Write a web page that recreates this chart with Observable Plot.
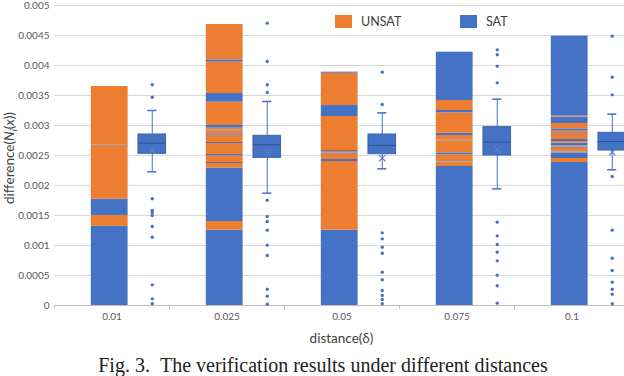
<!DOCTYPE html>
<html><head><meta charset="utf-8">
<script src="https://cdn.jsdelivr.net/npm/d3@7"></script>
<script src="https://cdn.jsdelivr.net/npm/@observablehq/plot@0.6"></script>
<style>
body{margin:0;background:#fff;width:624px;height:376px;overflow:hidden;position:relative;font-family:Lato,"Open Sans",sans-serif}
#chart{position:absolute;left:0;top:0}
.legend{position:absolute;top:15px;display:flex;align-items:center;font-size:12.5px;color:#404040;line-height:13px}
.sw{width:17px;height:13px;margin-right:9px}
#caption{position:absolute;left:0;width:646px;text-align:center;top:355px;font-family:"Liberation Serif",serif;font-size:20px;white-space:nowrap;line-height:20px;color:#222}
</style></head><body>
<div id="chart"></div>
<div class="legend" style="left:335px"><div class="sw" style="background:#ED7D31"></div>UNSAT</div>
<div class="legend" style="left:460px"><div class="sw" style="background:#4472C4"></div>SAT</div>
<div id="caption">Fig. 3.&nbsp;&nbsp;The verification results under different distances</div>
<script>
const distances = ["0.01", "0.025", "0.05", "0.075", "0.1"];

// stacked segments per distance, bottom-up: top value of each segment and its status
const tops_001 = [0.00132, 0.0015, 0.00177, 0.00268, 0.00365];
const status_001 = ["S", "U", "S", "U", "U"];
const tops_0025 = [0.001256, 0.0014, 0.002289, 0.002367, 0.002383, 0.002494, 0.002517, 0.0027, 0.002717, 0.002839, 0.002861, 0.002928, 0.002956, 0.003, 0.003389, 0.003533, 0.004056, 0.004094, 0.004683];
const status_0025 = ["S", "U", "S", "U", "S", "U", "S", "U", "S", "U", "S", "U", "U", "S", "U", "S", "U", "S", "U"];
const tops_005 = [0.001256, 0.0024, 0.002433, 0.002522, 0.002539, 0.002567, 0.002583, 0.00315, 0.003333, 0.003872, 0.003889];
const status_005 = ["S", "U", "S", "U", "S", "U", "S", "U", "S", "U", "S"];
const tops_0075 = [0.002317, 0.0024, 0.002511, 0.002544, 0.002755, 0.002833, 0.002872, 0.003211, 0.00325, 0.003417, 0.004222];
const status_0075 = ["S", "U", "U", "S", "U", "U", "S", "U", "S", "U", "S"];
const tops_01 = [0.002383, 0.00245, 0.002544, 0.002567, 0.002622, 0.002639, 0.002661, 0.002706, 0.002733, 0.002767, 0.002872, 0.002894, 0.002917, 0.002944, 0.003033, 0.003139, 0.003156, 0.004489];
const status_01 = ["S", "U", "S", "U", "U", "S", "U", "S", "U", "S", "U", "S", "U", "S", "U", "S", "U", "S"];

// box plot statistics per distance
const boxLow = [0.002228, 0.001872, 0.002278, 0.001944, 0.002261];
const boxQ1 = [0.002528, 0.002461, 0.002522, 0.0025, 0.002583];
const boxMedian = [0.002706, 0.002678, 0.002667, 0.002722, 0.002733];
const boxQ3 = [0.00285, 0.002828, 0.00285, 0.002972, 0.002878];
const boxHigh = [0.00325, 0.0034, 0.003211, 0.003439, 0.003189];
const boxMean = [0.002583, 0.002544, 0.002456, 0.0026, 0.002556];

const outliers_001 = [0.003678, 0.003472, 0.001778, 0.001583, 0.00155, 0.0015, 0.001317, 0.001139, 0.000344, 0.000111, 0.000028];
const outliers_0025 = [0.004706, 0.004067, 0.003678, 0.00355, 0.001756, 0.001483, 0.0014, 0.001256, 0.001006, 0.000833, 0.000272, 0.000156, 0.000022];
const outliers_005 = [0.003889, 0.00335, 0.001211, 0.001111, 0.000972, 0.000872, 0.000556, 0.000428, 0.00025, 0.000167, 0.0001, 0.000028];
const outliers_0075 = [0.004261, 0.004178, 0.003989, 0.003711, 0.001389, 0.001161, 0.001017, 0.000889, 0.000744, 0.000506, 0.000328, 0.000039];
const outliers_01 = [0.004489, 0.003806, 0.003511, 0.00215, 0.001256, 0.000789, 0.000583, 0.000389, 0.000272, 0.000189, 0.000028];

const yTicks = [0, 0.0005, 0.001, 0.0015, 0.002, 0.0025, 0.003, 0.0035, 0.004, 0.0045, 0.005];
const yTickLabels = ["0", "0.0005", "0.001", "0.0015", "0.002", "0.0025", "0.003", "0.0035", "0.004", "0.0045", "0.005"];

const statusName = {S: "SAT", U: "UNSAT"};
const allTops = [tops_001, tops_0025, tops_005, tops_0075, tops_01];
const allStatus = [status_001, status_0025, status_005, status_0075, status_01];
const allOutliers = [outliers_001, outliers_0025, outliers_005, outliers_0075, outliers_01];

const segments = [];
const dividers = [];
allTops.forEach((tops, i) => {
  let prev = 0;
  tops.forEach((t, j) => {
    segments.push({i, y1: prev, y2: t, status: statusName[allStatus[i][j]]});
    if (j > 0 && allStatus[i][j] === allStatus[i][j - 1]) dividers.push({i, y: prev});
    prev = t;
  });
});
const boxes = distances.map((d, i) => ({i, low: boxLow[i], q1: boxQ1[i], med: boxMedian[i], q3: boxQ3[i], high: boxHigh[i], mean: boxMean[i]}));
const outs = allOutliers.flatMap((arr, i) => arr.map(v => ({i, v})));

const BAR_L = -0.18, BAR_R = 0.14, BOX_C = 0.35, BOX_H = 0.12, CAP_H = 0.04;
const font = "Lato, 'Open Sans', sans-serif";

const plot = Plot.plot({
  width: 624, height: 350,
  marginTop: 5, marginBottom: 45, marginLeft: 54, marginRight: 0,
  style: {fontFamily: font, background: "transparent"},
  x: {type: "linear", domain: [-0.5, 4.4565]},
  y: {domain: [0, 0.005]},
  color: {domain: ["UNSAT", "SAT"], range: ["#ED7D31", "#4472C4"]},
  marks: [
    Plot.gridY(yTicks, {stroke: "#d9d9d9", strokeOpacity: 1}),
    Plot.axisY(yTicks, {tickSize: 0, tickPadding: 5, fontSize: 10, fill: "#595959",
      tickFormat: d => yTickLabels[yTicks.indexOf(d)], label: null}),
    Plot.ruleY([0], {stroke: "#bfbfbf"}),
    Plot.axisX([-0.5, 0.5, 1.5, 2.5, 3.5], {tickSize: 4, stroke: "#bfbfbf", tickFormat: () => "", label: null}),
    Plot.axisX([0, 1, 2, 3, 4], {tickSize: 0, tickPadding: 7, fontSize: 10, fill: "#595959",
      tickFormat: d => distances[d], label: null}),
    Plot.text(["distance(δ)"], {frameAnchor: "bottom", dy: 37, dx: 2, fontSize: 13.5, fill: "#404040"}),
    Plot.rectY(segments, {x1: d => d.i + BAR_L, x2: d => d.i + BAR_R, y1: "y1", y2: "y2", fill: "status"}),
    Plot.ruleY(dividers, {x1: d => d.i + BAR_L, x2: d => d.i + BAR_R, y: "y", stroke: "#a9a9a9", strokeWidth: 1.3}),
    Plot.ruleX(boxes, {x: d => d.i + BOX_C, y1: "q3", y2: "high", stroke: "#4472C4"}),
    Plot.ruleX(boxes, {x: d => d.i + BOX_C, y1: "low", y2: "q1", stroke: "#4472C4"}),
    Plot.ruleY(boxes, {x1: d => d.i + BOX_C - CAP_H, x2: d => d.i + BOX_C + CAP_H, y: "high", stroke: "#4472C4", strokeWidth: 1.5}),
    Plot.ruleY(boxes, {x1: d => d.i + BOX_C - CAP_H, x2: d => d.i + BOX_C + CAP_H, y: "low", stroke: "#4472C4", strokeWidth: 1.5}),
    Plot.rectY(boxes, {x1: d => d.i + BOX_C - BOX_H, x2: d => d.i + BOX_C + BOX_H, y1: "q1", y2: "q3", fill: "#4472C4", stroke: "#3A62AE", strokeWidth: 1}),
    Plot.ruleY(boxes, {x1: d => d.i + BOX_C - BOX_H, x2: d => d.i + BOX_C + BOX_H, y: "med", stroke: "#2F528F", strokeWidth: 1}),
    Plot.dot(boxes, {x: d => d.i + BOX_C, y: "mean", symbol: "times", r: 3, stroke: "#5B7FC8", strokeWidth: 1.2}),
    Plot.dot(outs, {x: d => d.i + BOX_C, y: "v", r: 1.7, fill: "#4472C4", stroke: "none"})
  ]
});
document.getElementById("chart").appendChild(plot);

const svg = d3.select(plot);
const t = svg.append("text")
  .attr("transform", "translate(14,158) rotate(-90)")
  .attr("text-anchor", "middle")
  .attr("font-size", 13.5)
  .attr("font-family", font)
  .attr("fill", "#404040");
t.append("tspan").text("difference(");
t.append("tspan").attr("font-style", "italic").text("N");
t.append("tspan").attr("font-style", "italic").attr("font-size", 9.5).attr("dy", 3).text("i");
t.append("tspan").attr("dy", -3).text("(");
t.append("tspan").attr("font-style", "italic").text("x");
t.append("tspan").text("))");
</script>
</body></html>
